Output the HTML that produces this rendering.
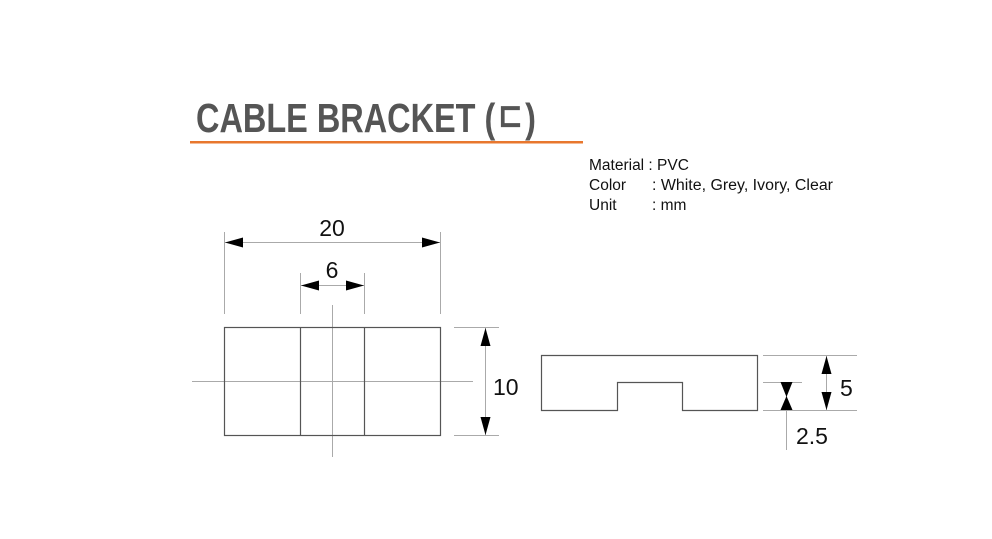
<!DOCTYPE html>
<html><head><meta charset="utf-8"><style>
html,body{margin:0;padding:0;background:#fff;}
svg{display:block;}
</style></head><body>
<svg width="992" height="539" viewBox="0 0 992 539" xmlns="http://www.w3.org/2000/svg">
<text x="196" y="132" font-family="Liberation Sans, sans-serif" font-weight="bold" font-size="41" fill="#555" textLength="340" lengthAdjust="spacingAndGlyphs">CABLE BRACKET (ㄷ)</text>
<rect x="190" y="141" width="393" height="2.5" fill="#e8772e"/>
<g font-family="Liberation Sans, sans-serif" font-size="15.5" fill="#111">
<text x="589" y="170">Material : PVC</text>
<text x="589" y="190">Color</text><text x="652" y="190" textLength="181" lengthAdjust="spacingAndGlyphs">: White, Grey, Ivory, Clear</text>
<text x="589" y="210">Unit</text><text x="652" y="210">: mm</text>
</g>
<g stroke="#aaa" stroke-width="1" fill="none">
<line x1="224.5" y1="232" x2="224.5" y2="314"/>
<line x1="440.5" y1="232" x2="440.5" y2="314"/>
<line x1="224" y1="242.5" x2="441" y2="242.5"/>
<line x1="300.5" y1="273" x2="300.5" y2="314"/>
<line x1="364.5" y1="273" x2="364.5" y2="314"/>
<line x1="300" y1="285.5" x2="365" y2="285.5"/>
<line x1="192" y1="381.5" x2="473" y2="381.5"/>
<line x1="332.5" y1="305" x2="332.5" y2="457"/>
<line x1="454" y1="327.5" x2="499" y2="327.5"/>
<line x1="454" y1="435.5" x2="499" y2="435.5"/>
<line x1="485.5" y1="327" x2="485.5" y2="435"/>
<line x1="763" y1="355.5" x2="857" y2="355.5"/>
<line x1="763" y1="410.5" x2="857" y2="410.5"/>
<line x1="763" y1="382.5" x2="802" y2="382.5"/>
<line x1="826.5" y1="355" x2="826.5" y2="410"/>
<line x1="786.5" y1="382" x2="786.5" y2="450"/>
</g>
<g stroke="#555" stroke-width="1.2" fill="none">
<rect x="224.5" y="327.5" width="216" height="108"/>
<line x1="300.5" y1="327" x2="300.5" y2="435"/>
<line x1="364.5" y1="327" x2="364.5" y2="435"/>
<path d="M541.5 355.5 H757.5 V410.5 H682.5 V382.5 H617.5 V410.5 H541.5 Z"/>
</g>
<g fill="#000">
<polygon points="225,242.5 243,237.5 243,247.5"/>
<polygon points="440,242.5 422,237.5 422,247.5"/>
<polygon points="301,285.5 319,280.5 319,290.5"/>
<polygon points="364,285.5 346,280.5 346,290.5"/>
<polygon points="485.5,328 480.5,346 490.5,346"/>
<polygon points="485.5,435 480.5,417 490.5,417"/>
<polygon points="826.5,356 821.5,374 831.5,374"/>
<polygon points="826.5,410 821.5,392 831.5,392"/>
<polygon points="786.5,397 780.5,382 792.5,382"/>
<polygon points="786.5,396 780.5,410 792.5,410"/>
</g>
<g font-family="Liberation Sans, sans-serif" font-size="23" fill="#111">
<text x="332" y="236" text-anchor="middle">20</text>
<text x="332" y="278" text-anchor="middle">6</text>
<text x="493" y="395">10</text>
<text x="840" y="396">5</text>
<text x="796" y="444">2.5</text>
</g>
</svg>
</body></html>
